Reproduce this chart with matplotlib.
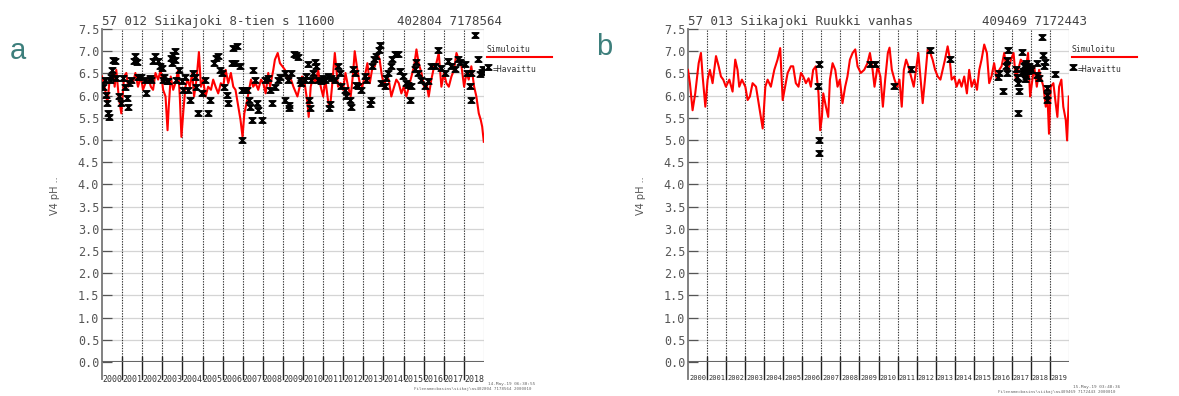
import matplotlib.pyplot as plt
from matplotlib.lines import Line2D
from matplotlib.path import Path

W, H = 1179, 396
MONO = "DejaVu Sans Mono"
SANS = "Liberation Sans"

# station 57 012 - simulated pH (decimal year, pH)
LEFT_SIM_T = [2000.00, 2000.13, 2000.27, 2000.38, 2000.55, 2000.63, 2000.71, 2000.83,
              2000.96, 2001.10, 2001.21, 2001.30, 2001.43, 2001.54, 2001.66, 2001.79,
              2001.93, 2002.04, 2002.16, 2002.29, 2002.43, 2002.54, 2002.66, 2002.79,
              2002.92, 2003.04, 2003.16, 2003.26, 2003.32, 2003.42, 2003.54, 2003.65,
              2003.79, 2003.87, 2003.95, 2004.05, 2004.15, 2004.25, 2004.37, 2004.49,
              2004.58, 2004.70, 2004.82, 2004.92, 2005.03, 2005.15, 2005.28, 2005.42,
              2005.53, 2005.65, 2005.78, 2005.91, 2006.03, 2006.15, 2006.28, 2006.41,
              2006.53, 2006.64, 2006.78, 2006.89, 2006.99, 2007.08, 2007.19, 2007.28,
              2007.41, 2007.52, 2007.64, 2007.77, 2007.91, 2008.02, 2008.14, 2008.27,
              2008.36, 2008.52, 2008.60, 2008.74, 2008.85, 2008.97, 2009.10, 2009.24,
              2009.35, 2009.52, 2009.72, 2009.83, 2009.95, 2010.08, 2010.22, 2010.28,
              2010.38, 2010.50, 2010.61, 2010.75, 2010.88, 2011.00, 2011.11, 2011.24,
              2011.33, 2011.44, 2011.58, 2011.66, 2011.74, 2011.87, 2011.99, 2012.11,
              2012.24, 2012.37, 2012.49, 2012.57, 2012.70, 2012.82, 2012.94, 2013.07,
              2013.20, 2013.32, 2013.43, 2013.57, 2013.70, 2013.81, 2013.90, 2014.03,
              2014.15, 2014.26, 2014.39, 2014.53, 2014.64, 2014.76, 2014.89, 2015.01,
              2015.14, 2015.26, 2015.39, 2015.52, 2015.64, 2015.75, 2015.89, 2016.02,
              2016.14, 2016.25, 2016.38, 2016.52, 2016.63, 2016.75, 2016.88, 2017.01,
              2017.13, 2017.25, 2017.38, 2017.51, 2017.63, 2017.74, 2017.88, 2018.01,
              2018.13, 2018.24, 2018.37, 2018.51, 2018.62, 2018.74, 2018.84, 2018.91,
              2018.99]
LEFT_SIM_PH = [6.43, 6.20, 5.83, 6.36, 6.51, 6.20, 6.58, 5.98,
               5.60, 6.43, 6.51, 6.20, 6.36, 6.28, 6.51, 6.20,
               6.43, 6.13, 6.28, 6.43, 6.20, 6.13, 6.51, 6.36,
               6.58, 6.13, 5.98, 5.22, 5.75, 6.43, 6.13, 6.28,
               6.58, 5.98, 5.07, 5.67, 6.20, 6.36, 6.20, 6.51,
               5.98, 6.36, 6.98, 6.20, 6.36, 5.98, 6.20, 6.13,
               6.36, 6.20, 6.05, 6.28, 6.20, 6.58, 6.28, 6.51,
               6.20, 6.13, 5.75, 5.45, 5.07, 5.60, 5.83, 6.05,
               6.36, 6.20, 6.28, 6.13, 6.36, 6.28, 6.05, 6.51,
               6.20, 6.58, 6.81, 6.96, 6.73, 6.66, 6.58, 6.36,
               6.43, 6.20, 5.98, 6.20, 6.43, 6.28, 5.83, 5.52,
               6.20, 6.43, 6.28, 6.58, 6.20, 5.98, 6.36, 5.90,
               5.67, 6.20, 6.96, 6.58, 6.20, 6.28, 6.13, 6.51,
               6.20, 5.98, 6.51, 7.00, 6.58, 6.28, 6.20, 6.43,
               6.73, 6.28, 6.58, 6.66, 6.96, 6.81, 6.51, 6.20,
               6.43, 6.36, 5.98, 6.20, 6.36, 6.28, 6.05, 6.20,
               5.98, 6.20, 6.43, 6.66, 7.04, 6.73, 6.51, 6.20,
               6.28, 5.98, 6.36, 6.66, 6.73, 6.96, 6.20, 6.51,
               6.28, 6.20, 6.43, 6.58, 6.96, 6.81, 6.66, 6.20,
               6.51, 6.36, 6.66, 6.20, 5.98, 5.60, 5.45, 5.30,
               4.96]

# station 57 012 - observed pH
LEFT_OBS_T = [2000.05, 2000.13, 2000.22, 2000.27, 2000.30, 2000.33, 2000.38, 2000.47,
              2000.50, 2000.55, 2000.63, 2000.71, 2000.83, 2000.93, 2001.05, 2001.13,
              2001.26, 2001.30, 2001.36, 2001.46, 2001.59, 2001.66, 2001.73, 2001.79,
              2001.96, 2002.13, 2002.21, 2002.38, 2002.46, 2002.54, 2002.62, 2002.79,
              2002.87, 2002.96, 2003.04, 2003.09, 2003.21, 2003.29, 2003.42, 2003.49,
              2003.54, 2003.62, 2003.62, 2003.70, 2003.82, 2003.99, 2004.04, 2004.12,
              2004.29, 2004.37, 2004.53, 2004.62, 2004.70, 2004.78, 2004.95, 2005.12,
              2005.28, 2005.37, 2005.58, 2005.65, 2005.75, 2005.86, 2005.95, 2006.08,
              2006.20, 2006.28, 2006.45, 2006.53, 2006.61, 2006.69, 2006.86, 2006.94,
              2006.94, 2007.08, 2007.19, 2007.31, 2007.36, 2007.44, 2007.52, 2007.61,
              2007.69, 2007.77, 2007.94, 2008.11, 2008.27, 2008.36, 2008.44, 2008.60,
              2008.74, 2008.85, 2009.10, 2009.09, 2009.25, 2009.29, 2009.32, 2009.42,
              2009.55, 2009.67, 2009.75, 2009.83, 2009.92, 2010.08, 2010.17, 2010.25,
              2010.28, 2010.33, 2010.41, 2010.50, 2010.58, 2010.66, 2010.75, 2010.91,
              2011.00, 2011.08, 2011.24, 2011.29, 2011.33, 2011.41, 2011.58, 2011.74,
              2011.82, 2011.91, 2012.07, 2012.16, 2012.32, 2012.40, 2012.49, 2012.57,
              2012.65, 2012.74, 2012.87, 2013.07, 2013.15, 2013.32, 2013.37, 2013.43,
              2013.53, 2013.65, 2013.76, 2013.81, 2013.90, 2014.06, 2014.15, 2014.23,
              2014.36, 2014.43, 2014.56, 2014.73, 2014.81, 2014.98, 2015.14, 2015.22,
              2015.31, 2015.39, 2015.56, 2015.64, 2015.72, 2015.89, 2016.05, 2016.19,
              2016.38, 2016.55, 2016.72, 2016.88, 2017.05, 2017.21, 2017.38, 2017.55,
              2017.71, 2017.79, 2018.04, 2018.13, 2018.29, 2018.34, 2018.37, 2018.54,
              2018.71, 2018.79, 2018.89, 2018.95]
LEFT_OBS_PH = [6.20, 6.36, 6.02, 5.83, 5.60, 5.52, 6.36, 6.43,
               6.58, 6.81, 6.77, 6.39, 5.98, 5.83, 6.39, 6.20,
               5.94, 5.75, 6.28, 6.36, 6.77, 6.89, 6.75, 6.43,
               6.43, 6.36, 6.05, 6.39, 6.36, 6.77, 6.89, 6.77,
               6.66, 6.62, 6.36, 6.43, 6.32, 6.32, 6.85, 6.73,
               6.92, 7.00, 6.81, 6.36, 6.58, 6.32, 6.13, 6.43,
               6.13, 5.90, 6.51, 6.43, 6.20, 5.60, 6.05, 6.36,
               5.60, 5.90, 6.73, 6.85, 6.90, 6.58, 6.51, 6.20,
               6.02, 5.83, 6.73, 7.08, 6.73, 7.11, 6.66, 6.13,
               5.00, 6.13, 6.13, 5.90, 5.75, 5.45, 6.58, 6.36,
               5.83, 5.67, 5.45, 6.36, 6.39, 6.13, 5.83, 6.20,
               6.36, 6.43, 6.51, 5.90, 6.36, 5.78, 5.71, 6.52,
               6.94, 6.92, 6.86, 6.36, 6.28, 6.36, 6.44, 6.71,
               5.90, 5.71, 6.36, 6.52, 6.75, 6.67, 6.36, 6.32,
               6.40, 6.36, 6.44, 5.71, 5.82, 6.40, 6.36, 6.67,
               6.52, 6.21, 6.13, 5.98, 5.90, 5.75, 6.59, 6.52,
               6.25, 6.21, 6.13, 6.44, 6.36, 5.82, 5.90, 6.67,
               6.82, 6.90, 7.02, 7.13, 6.28, 6.21, 6.40, 6.52,
               6.67, 6.82, 6.94, 6.94, 6.55, 6.44, 6.28, 6.25,
               5.90, 6.21, 6.59, 6.75, 6.52, 6.36, 6.21, 6.32,
               6.67, 6.67, 7.02, 6.63, 6.52, 6.78, 6.67, 6.59,
               6.82, 6.75, 6.71, 6.52, 6.21, 5.90, 6.52, 7.36,
               6.82, 6.48, 6.54, 6.60]

# station 57 013 - simulated pH
RIGHT_SIM_T = [2000.00, 2000.10, 2000.24, 2000.38, 2000.56, 2000.68, 2000.77, 2000.91,
               2001.03, 2001.15, 2001.29, 2001.47, 2001.61, 2001.73, 2001.85, 2001.99,
               2002.17, 2002.34, 2002.48, 2002.60, 2002.69, 2002.83, 2003.01, 2003.13,
               2003.25, 2003.39, 2003.57, 2003.74, 2003.92, 2004.06, 2004.18, 2004.35,
               2004.53, 2004.70, 2004.84, 2004.97, 2005.10, 2005.23, 2005.40, 2005.52,
               2005.66, 2005.80, 2005.93, 2006.05, 2006.19, 2006.33, 2006.45, 2006.57,
               2006.71, 2006.85, 2006.94, 2007.03, 2007.10, 2007.24, 2007.36, 2007.45,
               2007.59, 2007.73, 2007.85, 2007.97, 2008.11, 2008.25, 2008.37, 2008.50,
               2008.64, 2008.78, 2008.90, 2009.07, 2009.25, 2009.42, 2009.55, 2009.69,
               2009.79, 2009.95, 2010.10, 2010.23, 2010.35, 2010.49, 2010.58, 2010.70,
               2010.84, 2010.98, 2011.10, 2011.22, 2011.33, 2011.45, 2011.57, 2011.71,
               2011.85, 2011.97, 2012.09, 2012.23, 2012.32, 2012.44, 2012.58, 2012.72,
               2012.84, 2012.97, 2013.11, 2013.25, 2013.37, 2013.49, 2013.63, 2013.72,
               2013.84, 2013.98, 2014.10, 2014.24, 2014.36, 2014.50, 2014.64, 2014.76,
               2014.89, 2015.03, 2015.17, 2015.29, 2015.41, 2015.55, 2015.69, 2015.81,
               2015.93, 2016.07, 2016.21, 2016.34, 2016.46, 2016.60, 2016.74, 2016.86,
               2016.95, 2017.09, 2017.21, 2017.33, 2017.47, 2017.61, 2017.73, 2017.85,
               2017.96, 2018.03, 2018.17, 2018.31, 2018.43, 2018.55, 2018.66, 2018.78,
               2018.87, 2018.95, 2019.04, 2019.18, 2019.30, 2019.39, 2019.48, 2019.60,
               2019.70, 2019.83, 2019.90, 2019.99]
RIGHT_SIM_PH = [6.58, 6.28, 5.67, 6.05, 6.73, 6.96, 6.43, 5.75,
                6.36, 6.58, 6.28, 6.89, 6.66, 6.43, 6.36, 6.20,
                6.36, 6.09, 6.81, 6.58, 6.20, 6.36, 6.20, 5.90,
                5.98, 6.28, 6.20, 5.75, 5.26, 6.20, 6.36, 6.20,
                6.58, 6.81, 7.07, 5.90, 6.20, 6.51, 6.66, 6.66,
                6.28, 6.20, 6.51, 6.43, 6.28, 6.39, 6.20, 6.58,
                6.66, 6.05, 5.22, 5.52, 6.05, 5.75, 5.52, 6.36,
                6.73, 6.58, 6.20, 6.36, 5.83, 6.20, 6.43, 6.81,
                6.96, 7.04, 6.66, 6.51, 6.58, 6.73, 6.96, 6.58,
                6.20, 6.66, 6.43, 5.75, 6.36, 6.96, 7.08, 6.58,
                6.36, 6.20, 6.36, 5.75, 6.58, 6.81, 6.66, 6.43,
                6.20, 6.58, 6.96, 6.28, 5.83, 6.36, 7.04, 6.96,
                6.81, 6.58, 6.43, 6.36, 6.58, 6.81, 7.11, 6.89,
                6.36, 6.43, 6.20, 6.36, 6.20, 6.43, 6.05, 6.58,
                6.20, 6.36, 6.13, 6.58, 6.81, 7.15, 6.96, 6.28,
                6.43, 6.73, 6.36, 6.58, 6.66, 6.96, 6.51, 6.66,
                6.81, 6.96, 6.36, 6.58, 6.81, 6.73, 6.58, 6.96,
                5.98, 6.20, 6.66, 6.20, 6.58, 6.36, 6.20, 5.75,
                5.98, 5.14, 6.20, 6.28, 5.83, 5.52, 6.20, 6.36,
                5.75, 5.45, 4.99, 5.98]

# station 57 013 - observed pH
RIGHT_OBS_T = [2006.80, 2006.86, 2006.90, 2006.90, 2009.57, 2009.84, 2010.80, 2011.71,
               2012.72, 2013.77, 2016.25, 2016.34, 2016.51, 2016.68, 2016.74, 2016.77,
               2016.81, 2017.21, 2017.29, 2017.33, 2017.33, 2017.38, 2017.52, 2017.55,
               2017.61, 2017.64, 2017.68, 2017.70, 2017.73, 2017.73, 2017.78, 2017.82,
               2017.85, 2017.91, 2017.95, 2018.03, 2018.31, 2018.34, 2018.40, 2018.57,
               2018.66, 2018.69, 2018.73, 2018.83, 2018.83, 2018.87, 2019.25]
RIGHT_OBS_PH = [6.22, 6.72, 5.00, 4.70, 6.72, 6.72, 6.22, 6.61,
                7.02, 6.83, 6.43, 6.52, 6.11, 6.66, 6.81, 6.52,
                7.02, 6.60, 6.43, 6.28, 5.60, 6.11, 6.98, 6.50,
                6.55, 6.66, 6.70, 6.38, 6.73, 6.45, 6.60, 6.62,
                6.55, 6.66, 6.63, 6.58, 6.73, 6.47, 6.39, 7.33,
                6.92, 6.67, 6.75, 6.17, 6.02, 5.90, 6.49]

YTICKS = [0.0, 0.5, 1.0, 1.5, 2.0, 2.5, 3.0, 3.5, 4.0, 4.5, 5.0, 5.5, 6.0, 6.5, 7.0, 7.5]

# filled hourglass used for the observation markers
HOURGLASS = Path([(-1, 0.8), (1, 0.8), (-1, -0.8), (1, -0.8), (-1, 0.8)],
                 [Path.MOVETO, Path.LINETO, Path.LINETO, Path.LINETO, Path.CLOSEPOLY])


def fx(px):
    return px / W


def fy(py):
    return 1 - py / H


def draw_panel(fig, left, right, last_year, sim_t, sim_ph, obs_t, obs_ph,
               title, coords, coords_x, year_fs, stamp, stamp_y, fname,
               letter, letter_x, letter_y):
    ax = fig.add_axes([fx(left), fy(362), fx(right - left), (362 - 29) / H])
    ax.set_xlim(2000, last_year)
    ax.set_ylim(0, 7.5)
    for s in ax.spines.values():
        s.set_visible(False)

    # grid and frame
    for v in YTICKS[1:]:
        ax.axhline(v, color="#d4d4d4", lw=0.9, zorder=0)
    ax.axvline(last_year, color="#d0d0d0", lw=0.9, zorder=0)
    for yr in range(2001, last_year):
        ax.axvline(yr, color="#333333", lw=0.8, ls=(0, (1.2, 1.2)), zorder=1)
        ax.plot([yr, yr], [-0.38, 0.12], color="#222222", lw=1.0,
                clip_on=False, zorder=1)
    ax.plot([2000, 2000], [-0.38, 7.5], color="#777777", lw=1.3, clip_on=False)
    ax.axhline(0, color="#666666", lw=1.5)

    # the series
    ax.plot(sim_t, sim_ph, color="#ff0000", lw=1.5, zorder=3)
    ax.plot(obs_t, obs_ph, ls="none", marker=HOURGLASS, ms=4.8,
            mfc="black", mec="black", mew=1.1, zorder=4)

    ax.set_yticks(YTICKS)
    ax.set_yticklabels(["%.1f" % v for v in YTICKS], family=MONO)
    ax.tick_params(axis="y", direction="in", length=7, width=0.9,
                   colors="#555555", labelsize=8.5, pad=2)
    years = list(range(2000, last_year))
    ax.set_xticks([y + 0.5 for y in years])
    ax.set_xticklabels([str(y) for y in years], family=MONO)
    ax.tick_params(axis="x", length=0, labelsize=year_fs, labelcolor="#333333", pad=9)

    # titles and labels
    fig.text(fx(left), fy(25), title, family=MONO, fontsize=9, color="#444444")
    fig.text(fx(coords_x), fy(25), coords, family=MONO, fontsize=9, color="#444444")
    fig.text(fx(left - 47), fy(196), "V4 pH ..", family="DejaVu Sans", fontsize=7,
             color="#555555", rotation=90, ha="center", va="center")
    fig.text(fx(letter_x), fy(letter_y), letter, family=SANS, fontsize=21,
             color="#3d7f7c")

    # legend
    lx = right + 3
    fig.text(fx(lx), fy(50), "Simuloitu", family=MONO, fontsize=5.8,
             color="#333333", va="center")
    fig.add_artist(Line2D([fx(lx), fx(lx + 65)], [fy(57), fy(57)],
                          color="#ff0000", lw=1.5))
    fig.add_artist(Line2D([fx(lx + 1)], [fy(67)], ls="none", marker=HOURGLASS,
                          ms=4.8, mfc="black", mec="black", mew=1.1))
    fig.text(fx(lx + 6), fy(70), "=Havaittu", family=MONO, fontsize=5.8,
             color="#333333", va="center")

    # run stamp under the plot, right of the last year label
    fig.text(fx(right + 4), fy(stamp_y), stamp, family=MONO, fontsize=3.2,
             color="#666666", ha="left", va="center")
    fig.text(fx(right + 47), fy(stamp_y + 5), fname, family=MONO, fontsize=3.0,
             color="#666666", ha="right", va="center")
    return ax


def main():
    fig = plt.figure(figsize=(W / 100, H / 100), dpi=100)
    fig.patch.set_facecolor("white")

    draw_panel(fig, 102, 484, 2019, LEFT_SIM_T, LEFT_SIM_PH, LEFT_OBS_T, LEFT_OBS_PH,
               "57 012 Siikajoki 8-tien s 11600", "402804 7178564", 397, 6.0,
               "14-May-19 06:30:55", 384,
               "Filename=basins\\siikaj\\as402804 7178564 2000010",
               "a", 10, 59)
    draw_panel(fig, 688, 1069, 2020, RIGHT_SIM_T, RIGHT_SIM_PH, RIGHT_OBS_T, RIGHT_OBS_PH,
               "57 013 Siikajoki Ruukki vanhas", "409469 7172443", 982, 5.0,
               "15-May-19 03:48:36", 387,
               "Filename=basins\\siikaj\\as409469 7172443 2000010",
               "b", 596, 55)

    fig.savefig("out.png", dpi=100)


main()
